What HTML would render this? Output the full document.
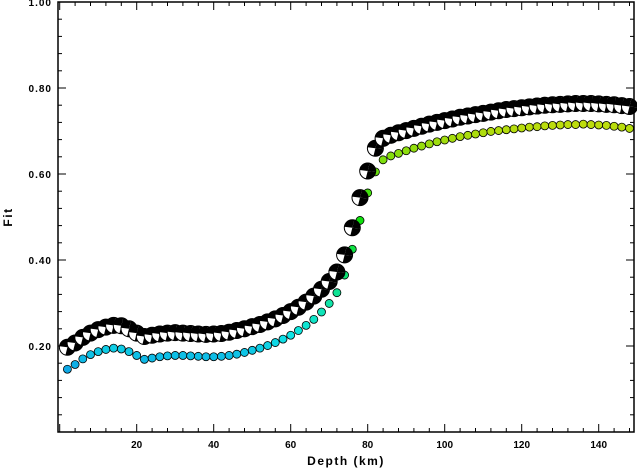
<!DOCTYPE html>
<html><head><meta charset="utf-8"><style>
html,body{margin:0;padding:0;background:#fff;}
svg text{font-family:"Liberation Sans",sans-serif;font-weight:bold;}
</style></head><body>
<svg id="chart" width="637" height="468" viewBox="0 0 637 468" xmlns="http://www.w3.org/2000/svg">
<g id="axes"></g><g id="marks"></g>
</svg>
<script>
const depths = [];
for (let d = 2; d <= 148; d += 2) depths.push(d);
const fitColored = [.146,.157,.170,.180,.187,.192,.195,.193,.187,.178,.169,.172,.175,.177,.178,.178,.177,.176,.175,.175,.176,.178,.181,.185,.190,.195,.201,.208,.216,.225,.236,.248,.262,.279,.299,.324,.365,.425,.492,.556,.605,.633,.642,.648,.654,.660,.665,.670,.675,.679,.683,.687,.690,.693,.696,.699,.701,.703,.705,.707,.709,.710,.712,.713,.714,.715,.715,.716,.715,.714,.713,.711,.709,.706];
const fitBest = [.197,.207,.220,.230,.238,.244,.248,.247,.240,.230,.222,.225,.228,.230,.231,.230,.229,.228,.227,.228,.229,.232,.236,.240,.245,.250,.256,.263,.271,.280,.290,.302,.316,.332,.350,.372,.412,.475,.545,.607,.660,.683,.690,.696,.701,.706,.711,.716,.720,.724,.728,.732,.735,.738,.741,.744,.747,.750,.752,.754,.756,.758,.760,.761,.762,.763,.764,.764,.764,.763,.762,.761,.759,.757];
const xTicks = [20,40,60,80,100,120,140];
const yTicks = [0.2,0.4,0.6,0.8,1.0];

const L=58,R=634,T=2,B=432;
const xs = d => 59.7 + d*3.85;
const ys = v => B - v*430;
const NS="http://www.w3.org/2000/svg";
function mk(tag, attrs, parent){const e=document.createElementNS(NS,tag);for(const k in attrs)e.setAttribute(k,attrs[k]);parent.appendChild(e);return e;}
const ax=document.getElementById('axes'), mg=document.getElementById('marks');

const frame=mk('rect',{x:L,y:T,width:R-L,height:B-T,fill:'none',stroke:'#000','stroke-width':1.5},ax);


for(let d=0; d<=148; d+=4){
  const big = d%20===0, len = big?8:4, x=xs(d);
  const t1=mk('line',{x1:x,x2:x,y1:B,y2:B-len,stroke:'#000','stroke-width':1},ax);
  
  
  const t2=mk('line',{x1:x,x2:x,y1:T,y2:T+len,stroke:'#000','stroke-width':1},ax);
  
  
}
for(let i=1;i<=25;i++){
  const v=i*0.04, y=ys(v), big=(i%5===0), len=big?8:4;
  const t1=mk('line',{x1:L,x2:L+len,y1:y,y2:y,stroke:'#000','stroke-width':1},ax);
  
  
  const t2=mk('line',{x1:R,x2:R-len,y1:y,y2:y,stroke:'#000','stroke-width':1},ax);
  
  
}
xTicks.forEach(t=>{
  const e=mk('text',{x:xs(t),y:448,'font-size':10,'text-anchor':'middle'},ax);e.textContent=t;
  
  
});
yTicks.forEach(t=>{
  const e=mk('text',{x:52,y:ys(t)+4,'font-size':10,'text-anchor':'end','letter-spacing':1},ax);e.textContent=t.toFixed(2);
  
  
});
const xt=mk('text',{x:346,y:465,'font-size':12,'text-anchor':'middle','letter-spacing':1.5},ax);xt.textContent='Depth (km)';


const yt=mk('text',{x:12,y:217,'font-size':12,'text-anchor':'middle','letter-spacing':1.5,transform:'rotate(-90 12 217)'},ax);yt.textContent='Fit';



function col(v){const f=Math.max(0,Math.min(1,(v-0.15)/(0.72-0.15)));const h=197-f*(197-68);return `hsl(${h},88%,${48-f*2}%)`;}
depths.forEach((d,i)=>{
  const c=mk('circle',{cx:xs(d),cy:ys(fitColored[i]),r:4,fill:col(fitColored[i]),stroke:'#000','stroke-width':0.8},mg);
  
  
});
depths.forEach((d,i)=>{
  const x=xs(d), y=ys(fitBest[i]), r=8;
  const g=mk('g',{},mg);
  
  
  mk('circle',{cx:x,cy:y,r:r,fill:'#fff',stroke:'#000','stroke-width':1},g);
  mk('path',{d:`M${x} ${y} L${x-r} ${y-1} A${r} ${r} 0 0 1 ${x+2} ${y-r} Z`,fill:'#000'},g);
  mk('path',{d:`M${x} ${y} L${x+r} ${y+1} A${r} ${r} 0 0 1 ${x-2} ${y+r} Z`,fill:'#000'},g);
  mk('path',{d:`M${x} ${y} L${x+2} ${y-r} A${r} ${r} 0 0 1 ${x+r} ${y+1} Z`,fill:'#000'},g);
});
</script>
</body></html>
